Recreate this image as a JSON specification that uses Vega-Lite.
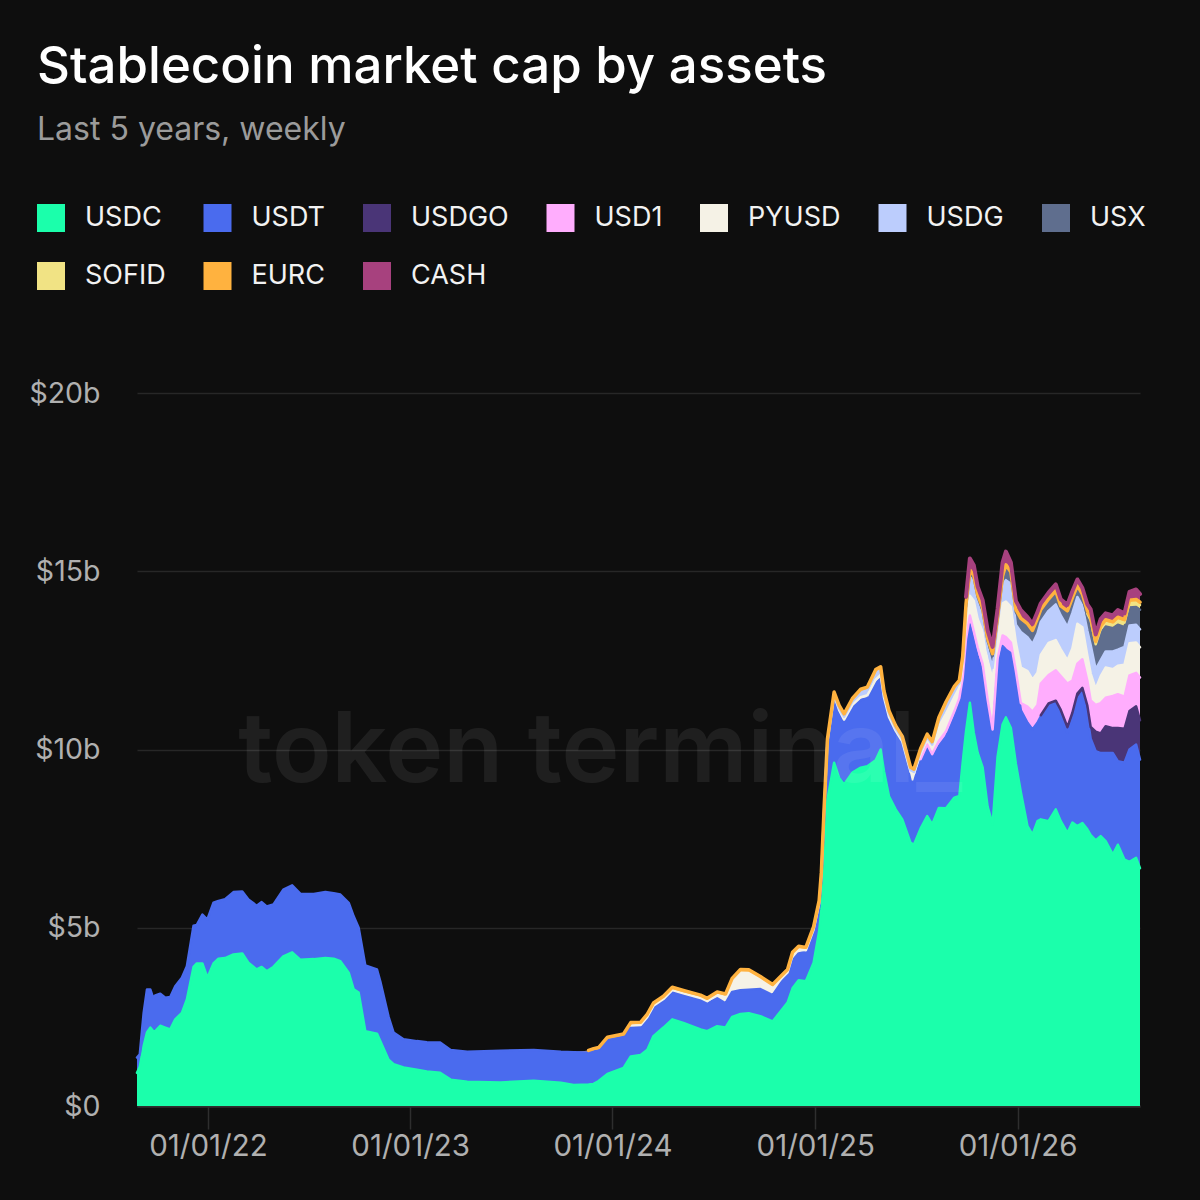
{
  "$schema": "https://vega.github.io/schema/vega-lite/v6.json",
  "width": 1003,
  "height": 713,
  "autosize": {"type": "none"},
  "padding": {"left": 137, "top": 393, "right": 60, "bottom": 94},
  "background": "#0e0e0e",
  "title": {
    "text": "Stablecoin market cap by assets",
    "subtitle": "Last 5 years, weekly",
    "anchor": "start",
    "frame": "group",
    "dx": -100,
    "offset": 57,
    "font": "Inter",
    "fontSize": 51,
    "fontWeight": 500,
    "color": "#ffffff",
    "subtitleFont": "Inter",
    "subtitleFontSize": 32,
    "subtitleFontWeight": 400,
    "subtitleColor": "#9b9b9b",
    "subtitlePadding": 21
  },
  "datasets": {
    "weekly": [
      {"d":"2021-08-26","USDC":0.93,"USDT":0.43},
      {"d":"2021-08-31","USDC":1.1,"USDT":0.35},
      {"d":"2021-09-07","USDC":1.68,"USDT":0.93},
      {"d":"2021-09-13","USDC":2.06,"USDT":1.21},
      {"d":"2021-09-19","USDC":2.2,"USDT":1.07},
      {"d":"2021-09-24","USDC":2.1,"USDT":0.94},
      {"d":"2021-09-28","USDC":2.1,"USDT":1.0},
      {"d":"2021-10-07","USDC":2.25,"USDT":0.9},
      {"d":"2021-10-16","USDC":2.2,"USDT":0.84},
      {"d":"2021-10-25","USDC":2.15,"USDT":0.91},
      {"d":"2021-11-03","USDC":2.43,"USDT":0.93},
      {"d":"2021-11-15","USDC":2.61,"USDT":0.99},
      {"d":"2021-11-24","USDC":2.99,"USDT":0.93},
      {"d":"2021-12-06","USDC":3.9,"USDT":1.16},
      {"d":"2021-12-12","USDC":4.0,"USDT":1.08},
      {"d":"2021-12-22","USDC":4.0,"USDT":1.37},
      {"d":"2021-12-31","USDC":3.6,"USDT":1.63},
      {"d":"2022-01-11","USDC":4.0,"USDT":1.7},
      {"d":"2022-01-20","USDC":4.13,"USDT":1.62},
      {"d":"2022-02-01","USDC":4.15,"USDT":1.65},
      {"d":"2022-02-16","USDC":4.25,"USDT":1.75},
      {"d":"2022-03-04","USDC":4.28,"USDT":1.74},
      {"d":"2022-03-15","USDC":4.02,"USDT":1.77},
      {"d":"2022-03-30","USDC":3.83,"USDT":1.79},
      {"d":"2022-04-08","USDC":3.9,"USDT":1.82},
      {"d":"2022-04-17","USDC":3.78,"USDT":1.82},
      {"d":"2022-04-29","USDC":3.9,"USDT":1.75},
      {"d":"2022-05-17","USDC":4.2,"USDT":1.87},
      {"d":"2022-06-02","USDC":4.31,"USDT":1.88},
      {"d":"2022-06-17","USDC":4.1,"USDT":1.85},
      {"d":"2022-07-11","USDC":4.12,"USDT":1.83},
      {"d":"2022-08-01","USDC":4.15,"USDT":1.85},
      {"d":"2022-08-16","USDC":4.13,"USDT":1.84},
      {"d":"2022-08-28","USDC":4.06,"USDT":1.87},
      {"d":"2022-09-12","USDC":3.74,"USDT":1.96},
      {"d":"2022-09-21","USDC":3.27,"USDT":2.05},
      {"d":"2022-09-30","USDC":3.18,"USDT":1.82},
      {"d":"2022-10-12","USDC":2.1,"USDT":1.84},
      {"d":"2022-11-02","USDC":2.03,"USDT":1.8},
      {"d":"2022-11-08","USDC":1.82,"USDT":1.68},
      {"d":"2022-11-23","USDC":1.3,"USDT":1.2},
      {"d":"2022-12-02","USDC":1.17,"USDT":0.89},
      {"d":"2022-12-20","USDC":1.08,"USDT":0.79},
      {"d":"2023-01-13","USDC":1.02,"USDT":0.8},
      {"d":"2023-01-31","USDC":0.97,"USDT":0.82},
      {"d":"2023-02-24","USDC":0.93,"USDT":0.85},
      {"d":"2023-03-15","USDC":0.74,"USDT":0.83},
      {"d":"2023-04-14","USDC":0.68,"USDT":0.84},
      {"d":"2023-06-13","USDC":0.66,"USDT":0.89},
      {"d":"2023-08-12","USDC":0.71,"USDT":0.86},
      {"d":"2023-09-30","USDC":0.65,"USDT":0.87},
      {"d":"2023-10-23","USDC":0.59,"USDT":0.92},
      {"d":"2023-11-19","USDC":0.6,"USDT":0.9,"EURC":0.06},
      {"d":"2023-11-28","USDC":0.62,"USDT":0.91,"EURC":0.08},
      {"d":"2023-12-07","USDC":0.7,"USDT":0.86,"EURC":0.08},
      {"d":"2023-12-23","USDC":0.9,"USDT":0.95,"EURC":0.08},
      {"d":"2024-01-21","USDC":1.07,"USDT":0.87,"EURC":0.08},
      {"d":"2024-02-03","USDC":1.39,"USDT":0.85,"PYUSD":0.02,"EURC":0.08},
      {"d":"2024-02-21","USDC":1.43,"USDT":0.82,"PYUSD":0.02,"EURC":0.08},
      {"d":"2024-03-04","USDC":1.58,"USDT":0.9,"PYUSD":0.02,"EURC":0.08},
      {"d":"2024-03-15","USDC":1.96,"USDT":0.82,"PYUSD":0.03,"EURC":0.08},
      {"d":"2024-04-02","USDC":2.2,"USDT":0.77,"PYUSD":0.03,"EURC":0.08},
      {"d":"2024-04-18","USDC":2.43,"USDT":0.77,"PYUSD":0.05,"EURC":0.08},
      {"d":"2024-05-08","USDC":2.33,"USDT":0.78,"PYUSD":0.05,"EURC":0.08},
      {"d":"2024-06-08","USDC":2.15,"USDT":0.83,"PYUSD":0.05,"EURC":0.08},
      {"d":"2024-06-20","USDC":2.1,"USDT":0.78,"PYUSD":0.06,"EURC":0.08},
      {"d":"2024-07-08","USDC":2.24,"USDT":0.78,"PYUSD":0.1,"EURC":0.08},
      {"d":"2024-07-23","USDC":2.2,"USDT":0.68,"PYUSD":0.18,"EURC":0.08},
      {"d":"2024-08-04","USDC":2.5,"USDT":0.7,"PYUSD":0.3,"EURC":0.08},
      {"d":"2024-08-19","USDC":2.58,"USDT":0.67,"PYUSD":0.5,"EURC":0.08},
      {"d":"2024-09-03","USDC":2.6,"USDT":0.66,"PYUSD":0.48,"EURC":0.08},
      {"d":"2024-09-24","USDC":2.52,"USDT":0.76,"PYUSD":0.27,"EURC":0.08},
      {"d":"2024-10-16","USDC":2.37,"USDT":0.74,"PYUSD":0.22,"EURC":0.08},
      {"d":"2024-11-12","USDC":2.9,"USDT":0.82,"PYUSD":0.03,"EURC":0.08},
      {"d":"2024-11-21","USDC":3.3,"USDT":0.78,"PYUSD":0.15,"EURC":0.08},
      {"d":"2024-12-02","USDC":3.53,"USDT":0.75,"PYUSD":0.12,"EURC":0.08},
      {"d":"2024-12-15","USDC":3.5,"USDT":0.82,"PYUSD":0.05,"EURC":0.08},
      {"d":"2024-12-29","USDC":4.02,"USDT":0.91,"PYUSD":0.02,"EURC":0.08},
      {"d":"2025-01-08","USDC":4.9,"USDT":0.68,"PYUSD":0.1,"EURC":0.08},
      {"d":"2025-01-12","USDC":5.5,"USDT":0.88,"PYUSD":0.1,"EURC":0.08},
      {"d":"2025-01-17","USDC":6.5,"USDT":1.7,"PYUSD":0.1,"EURC":0.08},
      {"d":"2025-01-23","USDC":8.6,"USDT":1.6,"PYUSD":0.02,"EURC":0.08},
      {"d":"2025-02-04","USDC":9.63,"USDT":1.86,"PYUSD":0.02,"USDG":0.02,"EURC":0.08},
      {"d":"2025-02-13","USDC":9.2,"USDT":1.86,"PYUSD":0.05,"USDG":0.05,"EURC":0.08},
      {"d":"2025-02-22","USDC":9.02,"USDT":1.77,"PYUSD":0.05,"USDG":0.08,"EURC":0.08},
      {"d":"2025-03-09","USDC":9.35,"USDT":1.84,"PYUSD":0.06,"USDG":0.1,"EURC":0.08},
      {"d":"2025-03-24","USDC":9.49,"USDT":1.9,"PYUSD":0.08,"USDG":0.14,"EURC":0.08},
      {"d":"2025-04-05","USDC":9.53,"USDT":1.91,"PYUSD":0.08,"USDG":0.15,"EURC":0.08},
      {"d":"2025-04-20","USDC":9.7,"USDT":2.16,"PYUSD":0.1,"USDG":0.2,"EURC":0.08},
      {"d":"2025-04-29","USDC":10.0,"USDT":1.99,"PYUSD":0.1,"USDG":0.15,"EURC":0.08},
      {"d":"2025-05-05","USDC":9.39,"USDT":2.0,"PYUSD":0.07,"USDG":0.1,"EURC":0.08},
      {"d":"2025-05-14","USDC":8.69,"USDT":2.14,"PYUSD":0.08,"USDG":0.1,"EURC":0.08},
      {"d":"2025-05-26","USDC":8.32,"USDT":2.14,"PYUSD":0.07,"USDG":0.06,"EURC":0.08},
      {"d":"2025-06-07","USDC":8.04,"USDT":2.09,"PYUSD":0.1,"USDG":0.06,"EURC":0.08},
      {"d":"2025-06-22","USDC":7.38,"USDT":1.74,"PYUSD":0.25,"USDG":0.05,"EURC":0.08},
      {"d":"2025-06-28","USDC":7.33,"USDT":1.74,"PYUSD":0.25,"USDG":0.05,"EURC":0.08},
      {"d":"2025-07-10","USDC":7.78,"USDT":1.93,"USD1":0.02,"PYUSD":0.15,"USDG":0.06,"EURC":0.08},
      {"d":"2025-07-22","USDC":8.13,"USDT":1.96,"USD1":0.05,"PYUSD":0.15,"USDG":0.06,"EURC":0.08},
      {"d":"2025-07-31","USDC":7.9,"USDT":1.89,"USD1":0.08,"PYUSD":0.2,"USDG":0.07,"EURC":0.08},
      {"d":"2025-08-12","USDC":8.36,"USDT":1.73,"USD1":0.15,"PYUSD":0.4,"USDG":0.18,"EURC":0.08},
      {"d":"2025-08-25","USDC":8.35,"USDT":2.01,"USD1":0.15,"PYUSD":0.5,"USDG":0.25,"EURC":0.08},
      {"d":"2025-09-09","USDC":8.65,"USDT":2.27,"USD1":0.15,"PYUSD":0.4,"USDG":0.22,"EURC":0.08},
      {"d":"2025-09-18","USDC":8.7,"USDT":2.59,"USD1":0.15,"PYUSD":0.3,"USDG":0.12,"EURC":0.08},
      {"d":"2025-09-24","USDC":9.63,"USDT":2.19,"USD1":0.2,"PYUSD":0.35,"USDG":0.15,"EURC":0.08},
      {"d":"2025-09-30","USDC":10.5,"USDT":2.4,"USD1":0.2,"PYUSD":0.5,"USDG":0.35,"USX":0.05,"EURC":0.08,"CASH":0.2},
      {"d":"2025-10-07","USDC":11.31,"USDT":2.2,"USD1":0.25,"PYUSD":0.55,"USDG":0.55,"USX":0.1,"EURC":0.07,"CASH":0.33},
      {"d":"2025-10-14","USDC":10.47,"USDT":2.6,"USD1":0.25,"PYUSD":0.85,"USDG":0.5,"USX":0.15,"EURC":0.07,"CASH":0.28},
      {"d":"2025-10-21","USDC":9.91,"USDT":2.7,"USD1":0.25,"PYUSD":0.8,"USDG":0.45,"USX":0.17,"EURC":0.07,"CASH":0.22},
      {"d":"2025-10-30","USDC":9.5,"USDT":2.65,"USD1":0.25,"PYUSD":0.9,"USDG":0.4,"USX":0.2,"EURC":0.07,"CASH":0.22},
      {"d":"2025-11-08","USDC":8.4,"USDT":2.8,"USD1":0.2,"PYUSD":1.1,"USDG":0.3,"USX":0.25,"EURC":0.07,"CASH":0.22},
      {"d":"2025-11-17","USDC":7.9,"USDT":2.47,"USD1":0.19,"PYUSD":1.4,"USDG":0.33,"USX":0.33,"EURC":0.07,"CASH":0.19},
      {"d":"2025-11-26","USDC":9.8,"USDT":2.5,"USD1":0.25,"PYUSD":0.6,"USDG":0.35,"USX":0.15,"EURC":0.07,"CASH":0.22},
      {"d":"2025-12-05","USDC":10.7,"USDT":2.2,"USD1":0.3,"PYUSD":0.9,"USDG":0.5,"USX":0.2,"EURC":0.07,"CASH":0.37},
      {"d":"2025-12-11","USDC":10.9,"USDT":1.9,"USD1":0.35,"PYUSD":1.0,"USDG":0.6,"USX":0.35,"EURC":0.08,"CASH":0.37},
      {"d":"2025-12-20","USDC":10.6,"USDT":2.1,"USD1":0.3,"PYUSD":1.0,"USDG":0.65,"USX":0.25,"EURC":0.08,"CASH":0.26},
      {"d":"2025-12-29","USDC":9.6,"USDT":2.35,"USD1":0.25,"PYUSD":0.8,"USDG":0.5,"USX":0.35,"EURC":0.08,"CASH":0.24},
      {"d":"2026-01-07","USDC":8.8,"USDT":2.3,"USD1":0.2,"PYUSD":1.0,"USDG":1.0,"USX":0.3,"EURC":0.08,"CASH":0.23},
      {"d":"2026-01-19","USDC":7.85,"USDT":2.9,"USD1":0.45,"PYUSD":1.0,"USDG":0.95,"USX":0.3,"EURC":0.08,"CASH":0.18},
      {"d":"2026-01-28","USDC":7.61,"USDT":2.95,"USD1":0.5,"PYUSD":0.9,"USDG":1.0,"USX":0.3,"EURC":0.08,"CASH":0.18},
      {"d":"2026-02-06","USDC":7.99,"USDT":2.76,"USD1":0.5,"PYUSD":0.9,"USDG":1.1,"USX":0.35,"EURC":0.08,"CASH":0.18},
      {"d":"2026-02-12","USDC":8.04,"USDT":2.89,"USDGO":0.03,"USD1":0.89,"PYUSD":0.8,"USDG":0.93,"USX":0.28,"EURC":0.07,"CASH":0.17},
      {"d":"2026-02-26","USDC":7.99,"USDT":3.26,"USDGO":0.04,"USD1":0.8,"PYUSD":0.9,"USDG":0.9,"USX":0.25,"EURC":0.08,"CASH":0.18},
      {"d":"2026-03-11","USDC":8.32,"USDT":2.98,"USDGO":0.07,"USD1":0.85,"PYUSD":0.85,"USDG":1.0,"USX":0.3,"EURC":0.08,"CASH":0.18},
      {"d":"2026-03-20","USDC":7.99,"USDT":3.04,"USDGO":0.08,"USD1":0.95,"PYUSD":0.75,"USDG":0.95,"USX":0.2,"EURC":0.07,"CASH":0.18},
      {"d":"2026-04-01","USDC":7.66,"USDT":2.81,"USDGO":0.16,"USD1":1.22,"PYUSD":0.65,"USDG":0.94,"USX":0.37,"EURC":0.08,"CASH":0.17},
      {"d":"2026-04-10","USDC":7.95,"USDT":2.9,"USDGO":0.18,"USD1":0.9,"PYUSD":0.9,"USDG":1.0,"USX":0.35,"EURC":0.08,"CASH":0.18},
      {"d":"2026-04-19","USDC":7.85,"USDT":3.55,"USDGO":0.17,"USD1":0.84,"PYUSD":1.12,"USDG":0.75,"USX":0.24,"EURC":0.08,"CASH":0.17},
      {"d":"2026-04-28","USDC":7.94,"USDT":3.66,"USDGO":0.13,"USD1":0.8,"PYUSD":0.9,"USDG":0.6,"USX":0.25,"EURC":0.08,"CASH":0.17},
      {"d":"2026-05-07","USDC":7.76,"USDT":3.17,"USDGO":0.3,"USD1":0.7,"PYUSD":0.7,"USDG":0.7,"USX":0.4,"SOFID":0.08,"EURC":0.08,"CASH":0.18},
      {"d":"2026-05-13","USDC":7.6,"USDT":2.7,"USDGO":0.33,"USD1":0.75,"PYUSD":0.75,"USDG":0.8,"USX":0.56,"SOFID":0.13,"EURC":0.08,"CASH":0.23},
      {"d":"2026-05-22","USDC":7.45,"USDT":2.5,"USDGO":0.55,"USD1":0.75,"PYUSD":0.45,"USDG":0.55,"USX":0.6,"SOFID":0.1,"EURC":0.08,"CASH":0.2},
      {"d":"2026-05-31","USDC":7.57,"USDT":2.33,"USDGO":0.55,"USD1":0.85,"PYUSD":0.75,"USDG":0.45,"USX":0.75,"SOFID":0.13,"EURC":0.08,"CASH":0.2},
      {"d":"2026-06-09","USDC":7.43,"USDT":2.47,"USDGO":0.75,"USD1":0.8,"PYUSD":0.85,"USDG":0.45,"USX":0.7,"SOFID":0.11,"EURC":0.08,"CASH":0.18},
      {"d":"2026-06-22","USDC":7.05,"USDT":2.85,"USDGO":0.7,"USD1":0.9,"PYUSD":0.75,"USDG":0.5,"USX":0.65,"SOFID":0.1,"EURC":0.08,"CASH":0.18},
      {"d":"2026-07-01","USDC":7.33,"USDT":2.34,"USDGO":0.93,"USD1":0.95,"PYUSD":0.8,"USDG":0.45,"USX":0.7,"SOFID":0.13,"EURC":0.08,"CASH":0.2},
      {"d":"2026-07-13","USDC":6.91,"USDT":2.72,"USDGO":0.95,"USD1":0.9,"PYUSD":0.9,"USDG":0.5,"USX":0.55,"SOFID":0.13,"EURC":0.08,"CASH":0.18},
      {"d":"2026-07-22","USDC":6.85,"USDT":3.15,"USDGO":1.08,"USD1":1.0,"PYUSD":0.9,"USDG":0.5,"USX":0.5,"SOFID":0.13,"EURC":0.08,"CASH":0.23},
      {"d":"2026-08-03","USDC":6.96,"USDT":3.18,"USDGO":1.07,"USD1":0.94,"PYUSD":0.85,"USDG":0.5,"USX":0.5,"SOFID":0.13,"EURC":0.08,"CASH":0.28},
      {"d":"2026-08-10","USDC":6.67,"USDT":3.05,"USDGO":1.1,"USD1":1.2,"PYUSD":0.85,"USDG":0.5,"USX":0.55,"SOFID":0.13,"EURC":0.08,"CASH":0.23}
    ],
    "order": [
      {"asset":"USDC","rank":0},
      {"asset":"USDT","rank":1},
      {"asset":"USDGO","rank":2},
      {"asset":"USD1","rank":3},
      {"asset":"PYUSD","rank":4},
      {"asset":"USDG","rank":5},
      {"asset":"USX","rank":6},
      {"asset":"SOFID","rank":7},
      {"asset":"EURC","rank":8},
      {"asset":"CASH","rank":9}
    ]
  },
  "layer": [
    {
      "data": {"name": "weekly"},
      "transform": [
        {"fold": ["USDC","USDT","USDGO","USD1","PYUSD","USDG","USX","SOFID","EURC","CASH"], "as": ["asset","value"]},
        {"filter": "isValid(datum.value)"},
        {"impute": "value", "key": "d", "groupby": ["asset"], "value": 0},
        {"lookup": "asset", "from": {"data": {"name": "order"}, "key": "asset", "fields": ["rank"]}},
        {"stack": "value", "groupby": ["d"], "sort": [{"field": "rank", "order": "ascending"}], "as": ["v0", "v1"]}
      ],
      "encoding": {
        "x": {
          "field": "d",
          "type": "temporal",
          "axis": {
            "title": null,
            "format": "%m/%d/%y",
            "values": [
              {"year": 2022, "month": 1, "date": 1, "utc": true},
              {"year": 2023, "month": 1, "date": 1, "utc": true},
              {"year": 2024, "month": 1, "date": 1, "utc": true},
              {"year": 2025, "month": 1, "date": 1, "utc": true},
              {"year": 2026, "month": 1, "date": 1, "utc": true}
            ],
            "grid": false,
            "domain": true,
            "domainColor": "#2e2e2e",
            "domainWidth": 2.5,
            "ticks": true,
            "tickColor": "#2e2e2e",
            "tickSize": 23,
            "tickWidth": 1.5,
            "labelFont": "Inter",
            "labelFontSize": 29.5,
            "labelColor": "#b0b0b0",
            "labelPadding": 3
          }
        },
        "y": {
          "field": "v1",
          "type": "quantitative",
          "scale": {"domain": [0, 20], "nice": false},
          "axis": {
            "title": null,
            "values": [0, 5, 10, 15, 20],
            "labelExpr": "datum.value == 0 ? '$0' : '$' + datum.value + 'b'",
            "domain": false,
            "ticks": false,
            "grid": true,
            "gridColor": "#272727",
            "gridWidth": 1.5,
            "labelFont": "Inter",
            "labelFontSize": 28.5,
            "labelColor": "#b0b0b0",
            "labelPadding": 37
          }
        },
        "color": {
          "field": "asset",
          "type": "nominal",
          "scale": {
            "domain": ["USDC","USDT","USDGO","USD1","PYUSD","USDG","USX","SOFID","EURC","CASH"],
            "range": ["#1bffab","#4a6bee","#4a3577","#ffadfd","#f5f2e6","#bccdfd","#5f6e8e","#f1e384","#ffb23f","#a7417e"]
          },
          "legend": {
            "title": null,
            "orient": "none",
            "legendX": -100,
            "legendY": -189,
            "direction": "horizontal",
            "columns": 7,
            "gridAlign": "none",
            "symbolType": "square",
            "symbolSize": 784,
            "symbolStrokeWidth": 0,
            "symbolOpacity": 1,
            "labelFont": "Inter",
            "labelFontSize": 27,
            "labelColor": "#f2f2f2",
            "labelOffset": 20,
            "columnPadding": 37.5,
            "rowPadding": 30
          }
        }
      },
      "layer": [
        {"mark": {"type": "area", "interpolate": "linear"}, "encoding": {"y2": {"field": "v0"}}},
        {"transform": [{"filter": "datum.rank == 0 && datum.value > 0"}], "mark": {"type": "line", "strokeWidth": 2.5, "strokeJoin": "round", "strokeCap": "round"}},
        {"transform": [{"filter": "datum.rank == 1 && datum.value > 0"}], "mark": {"type": "line", "strokeWidth": 2.5, "strokeJoin": "round", "strokeCap": "round"}},
        {"transform": [{"filter": "datum.rank == 2 && datum.value > 0"}], "mark": {"type": "line", "strokeWidth": 2.5, "strokeJoin": "round", "strokeCap": "round"}},
        {"transform": [{"filter": "datum.rank == 3 && datum.value > 0"}], "mark": {"type": "line", "strokeWidth": 2.5, "strokeJoin": "round", "strokeCap": "round"}},
        {"transform": [{"filter": "datum.rank == 4 && datum.value > 0"}], "mark": {"type": "line", "strokeWidth": 2.5, "strokeJoin": "round", "strokeCap": "round"}},
        {"transform": [{"filter": "datum.rank == 5 && datum.value > 0"}], "mark": {"type": "line", "strokeWidth": 2.5, "strokeJoin": "round", "strokeCap": "round"}},
        {"transform": [{"filter": "datum.rank == 6 && datum.value > 0"}], "mark": {"type": "line", "strokeWidth": 2.5, "strokeJoin": "round", "strokeCap": "round"}},
        {"transform": [{"filter": "datum.rank == 7 && datum.value > 0"}], "mark": {"type": "line", "strokeWidth": 2.5, "strokeJoin": "round", "strokeCap": "round"}},
        {"transform": [{"filter": "datum.rank == 8 && datum.value > 0"}], "mark": {"type": "line", "strokeWidth": 3.5, "strokeJoin": "round", "strokeCap": "round"}},
        {"transform": [{"filter": "datum.rank == 9 && datum.value > 0"}], "mark": {"type": "line", "strokeWidth": 4, "strokeJoin": "round", "strokeCap": "round"}}
      ]
    },
    {
      "data": {"values": [{"t": "token terminal_"}]},
      "mark": {"type": "text", "font": "Inter", "fontSize": 98, "fontWeight": 600, "color": "#ffffff", "opacity": 0.07, "align": "center", "baseline": "alphabetic"},
      "encoding": {
        "x": {"datum": {"year": 2023, "month": 12, "date": 10, "utc": true}, "type": "temporal"},
        "y": {"datum": 9.1, "type": "quantitative"},
        "text": {"field": "t", "type": "nominal"}
      }
    }
  ],
  "config": {
    "view": {"stroke": null},
    "font": "Inter"
  }
}
